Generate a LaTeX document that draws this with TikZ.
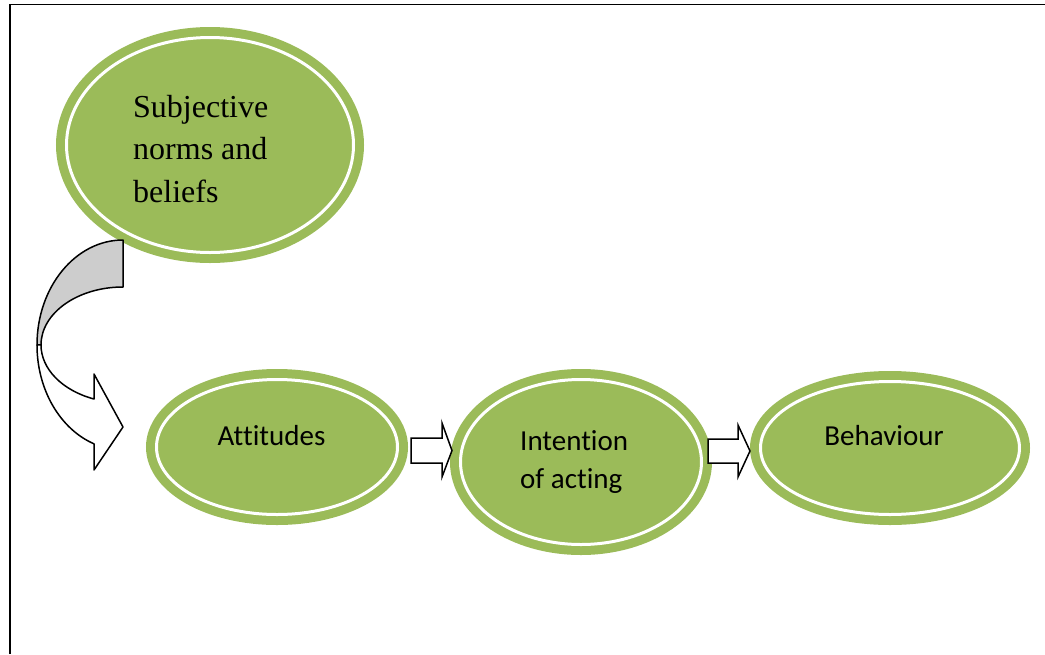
\documentclass[tikz,border=0pt]{standalone}
\usepackage{fontspec}
\setmainfont{Liberation Serif}[Ligatures=NoCommon]
\newfontfamily\calibri{Carlito}[Ligatures=NoCommon]
\usetikzlibrary{shapes.geometric}
\definecolor{leafgreen}{HTML}{9BBB59}
\definecolor{backgray}{HTML}{CDCDCD}
\begin{document}
\begin{tikzpicture}[x=1pt,y=-1pt,
  bubble/.style={ellipse, inner sep=0pt, outer sep=0pt, fill=leafgreen, draw=leafgreen, line width=9pt, double=white, double distance=3pt},
  serif/.style={font=\fontsize{32}{42.5}\selectfont, inner sep=0pt, align=left},
  sans/.style={font=\calibri\fontsize{29}{38}\selectfont, inner sep=0pt, align=left},
  blockarrow/.style={draw=black, line width=1.5pt, fill=white, line join=miter},
  curvearrow/.style={draw=black, line width=1.5pt, line join=round}]
\useasboundingbox (0,0) rectangle (1045,654);
\draw[line width=1.5pt] (10,654) |- (1045,4.5);

% bubbles
\node[bubble, minimum width=287pt, minimum height=215pt] (subj) at (210,145) {};
\node[bubble, minimum width=241pt, minimum height=135pt] (att) at (277,447) {};
\node[bubble, minimum width=241pt, minimum height=165pt] (int) at (581,462) {};
\node[bubble, minimum width=259pt, minimum height=133pt] (beh) at (890,448) {};

% texts (base anchor = baseline of the last line)
\node[serif, anchor=base west] (subjtext) at (133,202) {Subjective\\norms and\\beliefs};
\node[sans, anchor=base] (atttext) at (271.5,445) {Attitudes};
\node[sans, anchor=base west] (inttext) at (520,488) {Intention\\of acting};
\node[sans, anchor=base] (behtext) at (884,445) {Behaviour};

% curved arrow from subjective norms to attitudes
\filldraw[curvearrow, fill=backgray] (123,240)
  arc[start angle=90, end angle=180, x radius=86pt, y radius=105pt]
  -- (41,345)
  arc[start angle=180, end angle=90, x radius=82pt, y radius=58pt]
  -- cycle;
\filldraw[curvearrow, fill=white] (37,345)
  arc[start angle=180, end angle=250.3, x radius=86pt, y radius=105pt]
  -- (94,470) -- (123,427) -- (94,374) -- (94,399)
  arc[start angle=249.3, end angle=180, x radius=82pt, y radius=58pt]
  -- cycle;

% block arrows
\filldraw[blockarrow] (411,438) -- (442,438) -- (442,423) -- (452,450.5)
  -- (442,477) -- (442,463) -- (411,463) -- cycle;
\filldraw[blockarrow] (708,439) -- (738,439) -- (738,425) -- (750,451)
  -- (738,477) -- (738,463) -- (708,463) -- cycle;
\end{tikzpicture}
\end{document}
